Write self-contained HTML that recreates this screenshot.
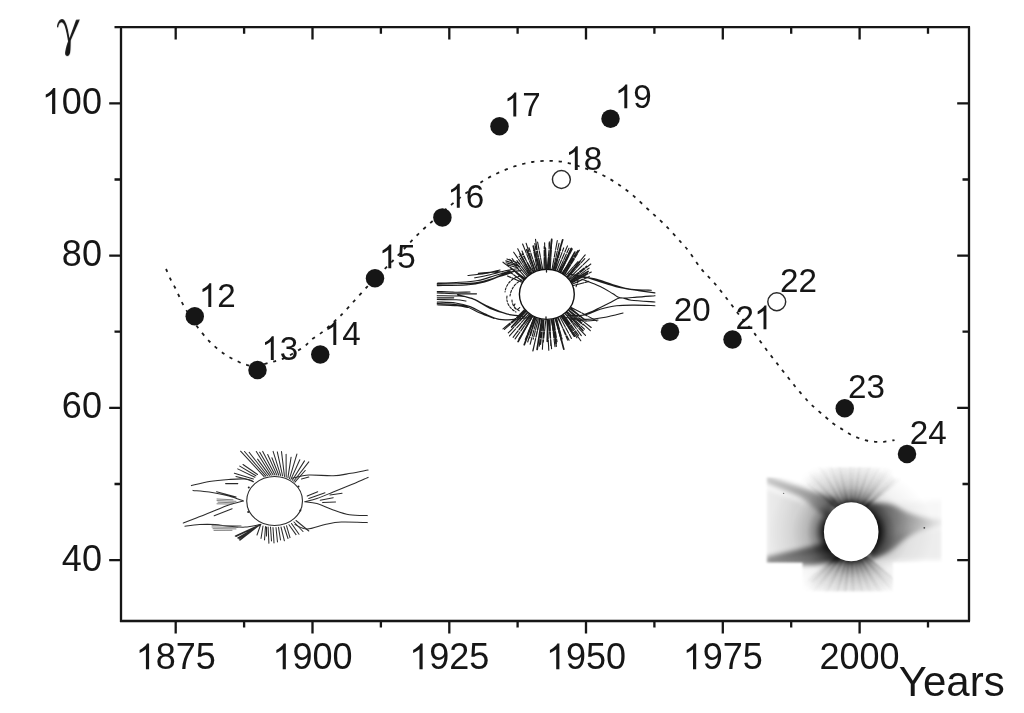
<!DOCTYPE html>
<html><head><meta charset="utf-8"><title>gamma vs years</title>
<style>
html,body{margin:0;padding:0;background:#fff;}
body{width:1024px;height:713px;overflow:hidden;font-family:"Liberation Sans",sans-serif;}
svg{display:block}
text{font-family:"Liberation Sans",sans-serif;fill:#151515}
.ax{font-size:36px}
.lb{font-size:33.2px}
</style></head><body>
<svg width="1024" height="713" viewBox="0 0 1024 713">
<rect width="1024" height="713" fill="#ffffff"/>
<defs>
<filter id="soft" x="-5%" y="-5%" width="110%" height="110%"><feGaussianBlur stdDeviation="0.45"/></filter>
<filter id="b07" x="-20%" y="-20%" width="140%" height="140%"><feGaussianBlur stdDeviation="0.85"/></filter>
<filter id="b1" x="-20%" y="-20%" width="140%" height="140%"><feGaussianBlur stdDeviation="1.2"/></filter>
<filter id="b2" x="-20%" y="-20%" width="140%" height="140%"><feGaussianBlur stdDeviation="2.4"/></filter>
<filter id="b4" x="-20%" y="-20%" width="140%" height="140%"><feGaussianBlur stdDeviation="4"/></filter>
<radialGradient id="halo" gradientUnits="userSpaceOnUse" cx="851.2" cy="531.8" r="70" gradientTransform="translate(851.2 531.8) scale(1.18 0.95) translate(-851.2 -531.8)">
<stop offset="0" stop-color="#000" stop-opacity="0.95"/>
<stop offset="0.33" stop-color="#000" stop-opacity="0.9"/>
<stop offset="0.38" stop-color="#000" stop-opacity="0.62"/>
<stop offset="0.44" stop-color="#000" stop-opacity="0.34"/>
<stop offset="0.54" stop-color="#000" stop-opacity="0.15"/>
<stop offset="0.72" stop-color="#000" stop-opacity="0.05"/>
<stop offset="1" stop-color="#000" stop-opacity="0"/>
</radialGradient>
<radialGradient id="rayg" gradientUnits="userSpaceOnUse" cx="851.2" cy="531.8" r="76">
<stop offset="0.36" stop-color="#000" stop-opacity="0.7"/>
<stop offset="0.44" stop-color="#000" stop-opacity="0.36"/>
<stop offset="0.58" stop-color="#000" stop-opacity="0.17"/>
<stop offset="0.80" stop-color="#000" stop-opacity="0.07"/>
<stop offset="1" stop-color="#000" stop-opacity="0"/>
</radialGradient>
<radialGradient id="fang" gradientUnits="userSpaceOnUse" cx="851.2" cy="531.8" r="74">
<stop offset="0.38" stop-color="#000" stop-opacity="0.24"/>
<stop offset="0.52" stop-color="#000" stop-opacity="0.15"/>
<stop offset="0.72" stop-color="#000" stop-opacity="0.08"/>
<stop offset="1" stop-color="#000" stop-opacity="0"/>
</radialGradient>
<linearGradient id="lgL" gradientUnits="userSpaceOnUse" x1="836" y1="0" x2="766" y2="0">
<stop offset="0" stop-color="#000" stop-opacity="0.8"/><stop offset="0.35" stop-color="#000" stop-opacity="0.55"/><stop offset="1" stop-color="#000" stop-opacity="0.42"/>
</linearGradient>
<linearGradient id="lgLU" gradientUnits="userSpaceOnUse" x1="836" y1="0" x2="766" y2="0">
<stop offset="0" stop-color="#000" stop-opacity="0.6"/><stop offset="0.4" stop-color="#000" stop-opacity="0.36"/><stop offset="1" stop-color="#000" stop-opacity="0.24"/>
</linearGradient>
<linearGradient id="lgR" gradientUnits="userSpaceOnUse" x1="868" y1="0" x2="943" y2="0">
<stop offset="0" stop-color="#000" stop-opacity="0.7"/><stop offset="0.25" stop-color="#000" stop-opacity="0.5"/><stop offset="0.5" stop-color="#000" stop-opacity="0.36"/><stop offset="0.8" stop-color="#000" stop-opacity="0.18"/><stop offset="1" stop-color="#000" stop-opacity="0.06"/>
</linearGradient>
<mask id="cross" maskUnits="userSpaceOnUse" x="750" y="455" width="210" height="150"><g filter="url(#b07)"><path d="M766.3 477 H802.5 V467 H893 V477 H942 V562.7 H893 V591.5 H802.5 V562.7 H766.3 Z" fill="#fff"/></g></mask>
<linearGradient id="lgM" gradientUnits="userSpaceOnUse" x1="832" y1="0" x2="766" y2="0">
<stop offset="0" stop-color="#000" stop-opacity="0.3"/><stop offset="0.4" stop-color="#000" stop-opacity="0.15"/><stop offset="1" stop-color="#000" stop-opacity="0.07"/>
</linearGradient>
</defs>
<g mask="url(#cross)">
<g filter="url(#b2)"><path d="M851.2 519.8 L796.0 473.5 L801.4 467.8 L807.4 462.7 L813.8 458.2 L820.8 454.5 L828.1 451.6 L835.6 449.5 L843.4 448.2 L851.2 447.8 L859.0 448.2 L866.8 449.5 L874.3 451.6 L881.6 454.5 L888.6 458.2 L895.0 462.7 L901.0 467.8 L906.4 473.5 Z" fill="url(#fang)"/><path d="M851.2 543.8 L906.4 590.1 L901.0 595.8 L895.0 600.9 L888.6 605.4 L881.6 609.1 L874.3 612.0 L866.8 614.1 L859.0 615.4 L851.2 615.8 L843.4 615.4 L835.6 614.1 L828.1 612.0 L820.8 609.1 L813.8 605.4 L807.4 600.9 L801.4 595.8 L796.0 590.1 Z" fill="url(#fang)"/><path d="M828.0 512.0 L766.0 488.0 L766.0 560.0 L830.0 552.0 Z" fill="url(#lgM)"/><path d="M870.0 540.0 L942.0 528.0 L942.0 560.0 L872.0 560.0 Z" fill="#000" fill-opacity="0.07"/><path d="M870.0 505.0 L942.0 500.0 L942.0 522.0 L872.0 525.0 Z" fill="#000" fill-opacity="0.03"/><path d="M838.0 500.0 L800.0 487.0 L766.0 476.0 L766.0 483.0 L800.0 497.0 L828.0 518.0 Z" fill="url(#lgLU)"/><path d="M828.0 542.0 L800.0 549.0 L766.0 557.0 L766.0 565.0 L812.0 565.0 L842.0 561.0 Z" fill="url(#lgL)"/><path d="M864.0 503.0 C868.2 503.2 881.5 502.3 889.0 504.0 C896.5 505.7 902.5 510.6 909.0 513.0 C915.5 515.4 922.3 517.3 928.0 518.5 C933.7 519.7 940.5 519.8 943.0 520.0 L943 526 943.0 526.0 C939.0 526.9 925.3 529.3 919.0 531.5 C912.7 533.7 910.0 535.6 905.0 539.0 C900.0 542.4 894.8 548.7 889.0 552.0 C883.2 555.3 873.2 557.8 870.0 559.0 Z" fill="url(#lgR)"/></g>
<g filter="url(#b1)"><ellipse cx="851.2" cy="531.8" rx="84" ry="68" fill="url(#halo)"/></g>
<g filter="url(#b07)" stroke="url(#rayg)" fill="none"><path d="M841.0 510.2 L811.1 481.7 M841.6 509.6 L809.5 475.8 M842.6 508.8 L813.2 471.1 M843.2 508.3 L819.5 474.1 M844.6 507.5 L823.8 468.6 M845.5 507.0 L822.4 454.9 M847.1 506.4 L835.3 467.3 M847.9 506.2 L837.1 462.3 M849.1 506.0 L841.1 451.9 M849.9 505.9 L845.1 455.6 M851.6 505.8 L852.8 464.7 M852.2 505.8 L855.2 462.2 M853.9 506.1 L863.4 456.4 M854.7 506.2 L866.0 462.3 M856.1 506.7 L873.7 459.5 M856.9 507.0 L879.8 456.2 M858.5 507.9 L880.6 472.0 M859.0 508.2 L888.7 463.5 M860.1 509.0 L893.1 468.8 M860.9 509.7 L895.9 473.6 M862.0 510.9 L901.0 478.5 M861.3 553.5 L902.4 593.0 M860.9 553.9 L896.7 591.6 M859.6 555.0 L894.3 601.3 M858.9 555.5 L883.6 593.2 M857.8 556.1 L880.8 598.6 M857.1 556.5 L874.8 594.7 M855.6 557.1 L869.7 599.2 M854.8 557.3 L868.9 611.2 M853.1 557.7 L860.9 613.0 M852.2 557.8 L856.3 613.2 M850.9 557.8 L849.6 613.7 M849.8 557.7 L845.5 600.2 M848.6 557.6 L839.5 605.4 M847.7 557.3 L836.3 600.6 M846.2 556.9 L828.5 603.8 M845.3 556.5 L823.1 604.0 M844.0 555.8 L822.9 590.9 M843.2 555.3 L812.5 599.8 M842.2 554.5 L811.8 590.6 M841.7 554.1 L806.8 591.8 M840.6 552.9 L808.0 580.8 " stroke-width="1.0"/><path d="M840.4 510.9 L807.5 483.6 M842.0 509.3 L809.6 472.3 M844.0 507.8 L815.9 460.6 M846.2 506.7 L829.5 462.7 M848.3 506.1 L839.6 464.9 M850.9 505.8 L849.8 459.1 M853.2 506.0 L860.2 458.8 M855.6 506.5 L872.1 456.6 M857.7 507.4 L878.9 467.5 M859.5 508.5 L888.5 469.3 M861.5 510.3 L895.2 479.5 M861.9 552.8 L898.7 583.9 M860.4 554.3 L895.1 594.0 M858.4 555.8 L885.1 600.5 M856.4 556.8 L876.4 606.8 M854.1 557.5 L864.2 604.5 M851.7 557.8 L853.4 605.2 M849.4 557.7 L843.7 601.5 M847.2 557.2 L833.4 602.7 M844.7 556.2 L821.2 601.6 M842.6 554.9 L809.3 597.8 M841.1 553.5 L811.5 582.2 " stroke-width="2.0"/></g>
<g filter="url(#soft)"><ellipse cx="851.2" cy="531.8" rx="27.3" ry="29.5" fill="#fff"/><circle cx="924.3" cy="527.8" r="0.9" fill="#444"/><circle cx="783.6" cy="493.4" r="0.7" fill="#777"/></g>
</g>
<g filter="url(#soft)" fill="none" stroke="#2c2c2c" stroke-width="1.05" stroke-linecap="round">
<ellipse cx="274.6" cy="501.0" rx="27.9" ry="24.5" stroke="#2a2a2a" stroke-width="1.1"/>
<path d="M264.1 476.7 L240.6 451.2 M265.8 476.2 L244.5 451.5 M267.5 475.8 L249.1 452.3 M269.4 475.4 L257.6 459.1 M271.2 475.2 L256.3 451.5 M273.1 475.0 L259.7 452.2 M275.0 475.0 L262.7 451.4 M276.9 475.1 L267.7 454.5 M278.8 475.3 L271.9 457.7 M280.7 475.6 L273.1 451.4 M282.6 476.0 L277.3 451.9 M284.5 476.5 L281.5 451.6 M286.2 477.1 L286.1 454.3 M287.9 477.8 L291.1 457.2 M289.5 478.6 L296.9 454.1 M290.9 479.4 L299.8 459.7 M292.3 480.3 L304.5 460.9 M293.7 481.2 L308.8 461.9 M294.9 482.2 L305.2 470.5 M255.9 475.8 L239.8 466.1 M254.9 477.3 L237.7 468.9 M253.4 479 L234.4 473.2 M252 480.5 L236 476.5 M257.5 474.5 L243 464.5 M268.1 527 L268.9 543.3 M270.5 527 L271.5 541 M273 527.5 L274 543 M276 527.5 L277.5 542 M278.5 527.3 L280.5 540 M281 527 L284.4 540.8 M284 526.5 L288 538.5 M286.5 525.7 L290 537.6 M289 524.8 L296 534.6 M291.5 523.5 L299 534.3 M294 522 L303 531.5 M296 520.5 L308.8 531 M265.5 526.5 L264.5 540 M263 526 L261 538.5 M260.5 525 L257 535 M266.5 527 L266.5 536 M261.0 524.3 L235.3 536.0 M260.3 524.8 L236.0 536.5 M259.6 525.2 L237.7 538.0 M258.9 525.6 L238.8 538.7 M258.2 526.1 L239.7 539.6 M257.5 526.5 L239.8 540.3 "/>
<path d="M191.4 485.6 C194.4 484.9 203.1 482.5 209.3 481.5 C215.5 480.5 222.8 479.9 228.8 479.5 C234.8 479.1 241.0 478.6 245.1 479.0 C249.2 479.4 252.1 481.3 253.5 481.8 M193.0 490.4 C195.7 490.7 203.3 491.2 209.3 492.1 C215.3 493.1 223.1 494.6 228.8 496.1 C234.5 497.6 241.1 500.2 243.5 501.0 M183.3 523.0 C185.5 522.2 191.4 520.0 196.3 518.1 C201.2 516.2 207.1 513.8 212.5 511.6 C217.9 509.4 223.6 506.9 228.8 505.1 C234.0 503.3 241.1 501.7 243.5 501.0 M184.9 526.2 C187.3 525.9 194.5 524.9 199.5 524.6 C204.5 524.3 210.1 524.3 215.0 524.6 C219.9 524.9 223.8 525.8 228.8 526.2 C233.8 526.6 239.9 527.4 245.1 527.1 C250.2 526.8 257.3 525.0 259.7 524.6 M291.7 478.2 C294.6 477.7 301.9 475.4 308.8 475.0 C315.7 474.6 326.2 476.1 333.2 475.8 C340.2 475.5 345.2 474.2 351.0 473.3 C356.8 472.4 365.2 470.6 368.1 470.1 M368.1 477.4 C365.2 478.6 356.8 482.3 351.0 484.7 C345.2 487.1 338.9 489.7 333.2 492.0 C327.5 494.3 321.6 496.9 316.9 498.5 C312.1 500.1 306.7 501.2 304.7 501.8 M304.7 501.8 C306.7 502.1 312.1 502.2 316.9 503.6 C321.6 505.0 327.8 508.0 333.2 509.9 C338.6 511.8 343.7 513.8 349.4 514.8 C355.1 515.8 364.3 515.5 367.3 515.6 M295.0 524.6 C297.0 525.4 302.2 529.1 307.2 529.1 C312.2 529.1 319.3 525.8 325.0 524.6 C330.7 523.4 334.2 522.4 341.3 522.1 C348.4 521.8 363.0 522.5 367.3 522.6 M225.6 483.6 L237.8 483.6 M216.6 491.7 L236.1 497 M214.2 515.7 L232.1 508.7 M301.5 479 L308.8 477.1 M307.2 496.1 L317.7 491.7 M308.8 498.5 L325 492.8 M329.9 495 L342.1 493.3 M320.2 500.2 L333.2 497.7 M322.6 502.6 L335.6 502.1 "/>
<path d="M217 499 L233 499.8 M217 500.6 L236 501.3 M218 502.2 L234 502.8 M217 503.8 L232 504.1 M212 525.3 L241 525.8 M212 527 L238 527.4 M213 528.7 L236 528.9 M214 530.4 L232 530.3 " stroke="#555" stroke-width="0.75"/>
<g fill="#222" stroke="none"><circle cx="248.8" cy="487.5" r="1"/><circle cx="248.2" cy="512" r="1"/><circle cx="298.5" cy="486.5" r="1"/><circle cx="300.3" cy="510.5" r="1"/></g>
</g>
<g filter="url(#soft)" fill="none" stroke="#1c1c1c" stroke-width="1.15" stroke-linecap="round">
<path d="M521.8 282.2 L507.4 276.0 M522.5 281.2 L507.4 270.2 M523.5 279.7 L508.0 265.2 M524.3 278.7 L503.0 262.2 M524.7 278.3 L509.5 266.7 M525.5 277.3 L509.7 259.3 M526.8 276.0 L512.1 258.7 M527.7 275.2 L516.6 260.2 M528.8 274.4 L513.7 252.2 M529.5 273.8 L519.2 256.3 M530.5 273.2 L517.7 248.7 M531.6 272.5 L522.0 251.1 M533.0 271.7 L522.1 253.9 M533.7 271.4 L522.6 244.0 M534.9 270.8 L526.1 243.2 M536.6 270.2 L529.0 247.8 M537.4 269.9 L533.6 250.2 M539.1 269.4 L534.8 243.6 M540.2 269.1 L535.5 239.3 M541.3 268.9 L536.1 246.4 M542.6 268.7 L537.6 242.1 M544.1 268.5 L544.2 246.5 M545.4 268.4 L544.6 242.7 M547.2 268.4 L549.7 243.1 M548.2 268.4 L549.4 241.8 M549.0 268.5 L549.1 242.8 M550.3 268.6 L551.8 238.9 M552.1 268.8 L557.3 240.5 M553.3 269.1 L559.0 243.4 M554.9 269.5 L560.7 248.9 M555.7 269.7 L563.7 247.9 M557.2 270.2 L567.5 245.9 M558.8 270.8 L569.0 248.2 M559.6 271.2 L571.2 248.6 M560.8 271.8 L572.3 249.0 M562.3 272.6 L577.9 250.6 M563.4 273.3 L575.5 255.2 M564.4 274.0 L579.4 250.1 M564.9 274.4 L577.2 254.2 M566.0 275.2 L578.5 261.0 M567.3 276.4 L585.2 254.9 M568.1 277.3 L584.8 258.6 M569.1 278.3 L589.3 258.9 M569.9 279.3 L586.6 266.1 M570.7 280.4 L590.8 264.0 M571.1 281.0 L589.1 268.1 M571.6 281.9 L588.9 272.6 M572.2 282.8 L591.3 272.0 M572.7 283.9 L590.2 276.0 M573.4 285.5 L588.8 281.4 M571.2 307.4 L596.9 321.0 M570.8 308.1 L585.2 320.0 M570.1 309.0 L586.0 320.8 M569.0 310.3 L591.2 327.5 M568.7 310.7 L590.3 330.6 M567.5 311.9 L582.9 324.8 M566.7 312.7 L584.4 329.1 M565.6 313.7 L581.3 335.6 M565.3 314.0 L585.5 335.4 M563.8 315.0 L578.6 335.3 M563.0 315.6 L580.8 340.7 M562.2 316.0 L576.9 337.8 M561.2 316.6 L573.5 335.0 M560.1 317.2 L571.4 338.4 M558.5 317.9 L567.6 340.1 M557.8 318.2 L569.1 340.3 M556.6 318.6 L562.1 339.0 M555.2 319.0 L561.6 341.4 M553.7 319.4 L557.0 341.6 M552.9 319.6 L556.4 346.4 M551.7 319.8 L555.0 346.8 M550.0 320.0 L550.8 345.4 M549.0 320.1 L551.6 348.8 M548.1 320.2 L550.8 342.0 M547.1 320.2 L548.8 350.2 M545.8 320.2 L543.3 342.3 M543.9 320.1 L542.4 349.2 M543.2 320.0 L540.6 344.5 M542.1 319.8 L539.3 346.1 M540.2 319.5 L532.8 351.0 M539.6 319.3 L533.0 351.0 M538.3 319.0 L533.2 339.2 M537.0 318.6 L530.1 344.3 M535.9 318.2 L529.7 337.9 M535.1 317.8 L527.7 342.0 M534.0 317.4 L525.3 339.6 M532.5 316.6 L518.9 339.0 M531.4 316.0 L515.1 338.9 M530.6 315.5 L515.9 333.7 M529.7 314.9 L513.1 337.3 M528.8 314.2 L509.5 335.8 M527.5 313.2 L508.3 332.8 M526.9 312.7 L510.2 331.1 M525.7 311.4 L504.4 329.3 M525.0 310.7 L503.0 328.9 M524.2 309.8 L509.6 324.9 " stroke-width="1.1" stroke-dasharray="11 1.2 6 1.5 14 1"/>
<path d="M530.5 273.2 L520.1 254.1 M535.0 270.8 L526.7 249.7 M539.0 269.4 L533.3 246.2 M546.3 268.4 L545.3 248.0 M548.9 268.5 L551.6 239.8 M553.9 269.2 L562.7 239.8 M560.7 271.8 L571.4 248.4 M563.2 273.2 L574.8 252.1 M567.6 276.7 L579.8 261.7 M571.2 281.2 L588.1 271.5 M566.8 312.7 L582.9 330.5 M562.0 316.2 L574.4 336.2 M555.9 318.8 L563.8 349.1 M551.6 319.8 L556.1 343.3 M547.7 320.2 L547.3 341.5 M541.7 319.8 L537.1 349.5 M534.4 317.6 L524.3 344.6 M532.1 316.4 L518.1 341.6 M525.6 311.4 L511.7 327.0 " stroke-width="1.7"/>
<path d="M506.9 259.0 L519.6 263.5 M505.8 260.9 L518.2 265.0 M506.0 262.8 L519.9 266.5 M507.3 264.7 L518.2 268.0 M437.3 284.3 C440.6 284.2 451.0 284.0 457.4 283.8 C463.8 283.6 469.8 283.7 475.6 282.9 C481.4 282.1 486.8 280.6 492.0 278.9 C497.2 277.2 501.7 274.3 506.6 272.9 C511.5 271.5 518.8 270.9 521.2 270.5 M437.3 285.6 C442.1 285.5 458.1 285.6 466.0 285.0 C473.9 284.4 479.1 283.4 484.7 282.0 C490.2 280.6 494.8 278.1 499.3 276.5 C503.9 274.9 509.9 273.2 512.0 272.5 M437.3 283.2 C441.1 283.1 453.2 282.8 460.0 282.3 C466.8 281.9 472.2 281.6 478.0 280.5 C483.8 279.4 489.7 277.1 495.0 275.5 C500.3 273.9 507.5 271.8 510.0 271.0 M474.7 277.8 C477.3 277.3 484.9 275.9 490.2 274.7 C495.5 273.5 502.1 271.5 506.6 270.5 C511.2 269.5 515.7 269.0 517.5 268.7 M478.3 273.4 C480.2 273.2 485.9 272.7 490.0 272.4 C494.1 272.1 500.8 271.7 503.0 271.6 M468.0 275.5 C470.8 275.2 479.7 274.4 485.0 273.5 C490.3 272.6 497.5 270.6 500.0 270.0 M437.3 292.9 C440.6 293.0 450.9 293.6 457.4 293.8 C463.9 294.0 473.3 293.8 476.5 293.8 M437.3 291.5 C440.2 291.6 449.6 292.1 455.0 292.2 C460.4 292.3 467.5 292.0 470.0 292.0 M437.3 295.7 C440.9 295.8 453.2 295.6 459.0 296.0 C464.8 296.4 467.0 296.6 471.9 298.4 C476.8 300.2 482.6 304.0 488.4 306.6 C494.2 309.2 500.5 312.2 506.6 313.9 C512.7 315.6 521.8 316.2 524.8 316.6 M437.3 297.8 C440.0 297.8 451.0 297.8 453.7 297.8 M437.3 299.5 C440.4 299.6 451.2 299.6 456.0 299.8 C460.8 300.1 464.3 300.8 466.0 301.0 M437.3 302.0 C440.3 302.2 450.0 302.2 455.5 303.0 C461.0 303.8 465.2 304.8 470.1 306.6 C475.0 308.4 479.8 311.8 484.7 313.9 C489.6 316.0 494.4 318.5 499.3 319.4 C504.2 320.3 509.0 319.7 513.9 319.4 C518.8 319.1 526.1 317.8 528.5 317.5 M437.3 304.8 C440.6 304.9 452.3 305.2 457.4 305.7 C462.5 306.1 466.2 307.2 468.0 307.5 M457.4 294.8 C460.1 295.6 468.3 297.0 473.8 299.3 C479.3 301.6 484.4 305.9 490.2 308.4 C496.0 310.9 503.5 313.1 508.4 314.3 C513.3 315.5 517.6 315.5 519.4 315.7 M437.3 303.4 C439.8 303.5 447.2 303.7 452.0 304.2 C456.8 304.7 461.3 305.0 466.0 306.5 C470.7 308.0 475.3 311.0 480.0 313.0 C484.7 315.0 491.7 317.6 494.0 318.5 M567.4 273.8 C570.4 274.4 579.5 275.6 585.6 277.1 C591.7 278.6 597.7 281.1 603.8 282.9 C609.9 284.7 615.7 286.6 622.1 288.0 C628.5 289.4 636.6 290.3 642.1 291.1 C647.6 291.9 652.8 292.6 654.9 292.9 M576.5 276.5 C579.5 276.9 588.6 277.5 594.7 278.9 C600.8 280.3 606.9 283.0 613.0 284.7 C619.1 286.4 624.8 288.4 631.2 289.3 C637.6 290.2 647.9 290.1 651.3 290.2 M582.0 279.2 C585.0 280.4 595.0 284.1 600.2 286.5 C605.4 288.9 609.7 291.9 613.0 293.8 C616.3 295.7 616.2 297.2 620.2 297.8 C624.2 298.4 630.9 297.5 636.7 297.1 C642.5 296.8 651.9 295.9 654.9 295.7 M579.2 316.6 C581.8 315.5 589.7 312.5 594.7 310.2 C599.7 307.9 605.0 305.1 609.3 303.0 C613.5 300.9 616.6 298.3 620.2 297.8 C623.9 297.3 625.4 299.5 631.2 300.2 C637.0 300.9 651.0 301.7 654.9 302.0 M567.4 315.7 C570.4 315.6 580.1 315.9 585.6 314.8 C591.1 313.7 595.0 310.8 600.2 309.3 C605.4 307.8 610.8 306.4 616.6 305.7 C622.4 305.0 628.4 305.1 634.8 305.1 C641.2 305.1 651.5 305.6 654.9 305.7 M565.5 317.5 C568.9 317.8 579.2 319.4 585.6 319.4 C592.0 319.4 597.6 318.6 603.8 317.5 C610.0 316.4 619.8 313.8 623.0 313.0 M570.0 319.0 C572.5 319.3 580.3 320.8 585.0 321.0 C589.7 321.2 595.8 320.2 598.0 320.0 "/>
<path d="M520 276 C512 278 506 284 505 292 M522 280 C515 283 511 289 510 296 M507 296 C506 302 509 308 516 312 M512 300 C512 305 515 309 520 311 M515 304 a3 3 0 1 0 5 3 M575 277 l4 5 M578 281 l-2 6" stroke-dasharray="2.2 1.6" stroke-width="1.1"/>
<ellipse cx="546.85" cy="294.3" rx="27.45" ry="25.1" fill="#fff" stroke="#111" stroke-width="1.4"/>
<path d="M546.5 269.5 v2.5 M546 316.8 v2.6" stroke-width="1.3"/>
</g>

<g filter="url(#soft)">
<g stroke="#141414" stroke-width="2.3" fill="none" stroke-linecap="butt">
<path d="M114.5 27.2 H970.05 M121.0 27.2 V622.05 M119.95 621.0 H970.05 M969.0 27.2 V621.0"/>
<path d="M175.7 27.2 v12.3 M175.7 621.0 v12.5 M312.5 27.2 v12.3 M312.5 621.0 v12.5 M449.3 27.2 v12.3 M449.3 621.0 v12.5 M586.0 27.2 v12.3 M586.0 621.0 v12.5 M722.8 27.2 v12.3 M722.8 621.0 v12.5 M859.6 27.2 v12.3 M859.6 621.0 v12.5 M244.1 27.2 v6.6 M244.1 621.0 v6.6 M380.9 27.2 v6.6 M380.9 621.0 v6.6 M517.6 27.2 v6.6 M517.6 621.0 v6.6 M654.4 27.2 v6.6 M654.4 621.0 v6.6 M791.2 27.2 v6.6 M791.2 621.0 v6.6 M928.0 27.2 v6.6 M928.0 621.0 v6.6 M121.0 560.1 h-11.8 M969.0 560.1 h-11.8 M121.0 407.8 h-11.8 M969.0 407.8 h-11.8 M121.0 255.6 h-11.8 M969.0 255.6 h-11.8 M121.0 103.3 h-11.8 M969.0 103.3 h-11.8 M121.0 484.0 h-6.5 M969.0 484.0 h-6.5 M121.0 331.7 h-6.5 M969.0 331.7 h-6.5 M121.0 179.5 h-6.5 M969.0 179.5 h-6.5 "/>
</g>
<path transform="translate(135.67 669.3) scale(0.01758 -0.01758)" d="M763 0H583V1147Q518 1085 412.5 1023Q307 961 223 930V1104Q374 1175 487 1276Q600 1377 647 1472H763Z" fill="#151515"/><text class="ax" x="155.69 175.71 195.73" y="669.3">875</text>
<path transform="translate(272.44 669.3) scale(0.01758 -0.01758)" d="M763 0H583V1147Q518 1085 412.5 1023Q307 961 223 930V1104Q374 1175 487 1276Q600 1377 647 1472H763Z" fill="#151515"/><text class="ax" x="292.46 312.48 332.51" y="669.3">900</text>
<path transform="translate(409.22 669.3) scale(0.01758 -0.01758)" d="M763 0H583V1147Q518 1085 412.5 1023Q307 961 223 930V1104Q374 1175 487 1276Q600 1377 647 1472H763Z" fill="#151515"/><text class="ax" x="429.24 449.26 469.28" y="669.3">925</text>
<path transform="translate(545.99 669.3) scale(0.01758 -0.01758)" d="M763 0H583V1147Q518 1085 412.5 1023Q307 961 223 930V1104Q374 1175 487 1276Q600 1377 647 1472H763Z" fill="#151515"/><text class="ax" x="566.01 586.03 606.05" y="669.3">950</text>
<path transform="translate(682.76 669.3) scale(0.01758 -0.01758)" d="M763 0H583V1147Q518 1085 412.5 1023Q307 961 223 930V1104Q374 1175 487 1276Q600 1377 647 1472H763Z" fill="#151515"/><text class="ax" x="702.78 722.81 742.83" y="669.3">975</text>
<text class="ax" x="819.54 839.56 859.58 879.60" y="669.3">2000</text>
<text class="ax" x="61.86 81.88" y="570.7">40</text>
<text class="ax" x="61.86 81.88" y="418.4">60</text>
<text class="ax" x="61.86 81.88" y="266.2">80</text>
<path transform="translate(41.84 113.9) scale(0.01758 -0.01758)" d="M763 0H583V1147Q518 1085 412.5 1023Q307 961 223 930V1104Q374 1175 487 1276Q600 1377 647 1472H763Z" fill="#151515"/><text class="ax" x="61.86 81.88" y="113.9">00</text>
<text x="898.8" y="696" font-size="42px">Years</text>
<path transform="translate(48 10) scale(0.07576)" fill="#151515" d="M120,230 C118,180 145,122 185,120 C222,120 245,185 262,260 L283,372 L370,130 L420,128 L300,400 C298,440 300,520 293,560 C288,595 270,610 250,608 C228,605 222,585 228,545 C235,500 255,440 265,415 C255,350 240,270 222,215 C205,165 180,155 160,170 C145,182 138,205 135,228 Z"/>
<path d="M166.0 269.0 C166.8 270.7 169.1 276.3 170.6 279.4 C172.1 282.5 173.6 284.7 175.0 287.5 C176.4 290.3 177.7 293.2 179.0 296.0 C180.3 298.8 180.4 299.9 183.0 304.4 C185.6 308.9 190.0 316.7 194.5 323.0 C199.0 329.3 204.9 336.8 210.0 342.0 C215.1 347.2 220.4 351.3 225.0 354.5 C229.6 357.7 234.1 359.6 237.5 361.2 C240.9 362.9 242.5 363.8 245.6 364.6 C248.7 365.4 251.9 366.6 256.0 366.2 C260.1 365.8 266.2 363.5 270.0 362.5 C273.8 361.5 275.9 360.9 278.8 360.0 C281.6 359.1 282.7 359.1 286.9 356.9 C291.1 354.7 299.7 349.7 303.8 346.9 C307.8 344.1 308.2 342.2 311.0 340.0 C313.8 337.8 317.5 335.7 320.6 333.4 C323.7 331.1 326.7 328.4 329.4 326.0 C332.1 323.6 334.4 321.2 337.0 318.8 C339.6 316.2 338.7 317.8 345.0 311.0 C351.3 304.2 368.3 285.4 375.0 278.2 C381.7 271.1 381.1 272.6 385.3 268.4 C389.6 264.2 395.3 258.3 400.5 252.8 C405.7 247.3 411.1 241.1 416.6 235.6 C422.1 230.1 428.1 225.0 433.8 220.0 C439.4 215.0 444.7 210.2 450.2 205.6 C455.7 201.0 461.1 196.8 466.6 192.7 C472.1 188.6 477.9 184.2 483.0 181.0 C488.1 177.8 492.2 175.7 497.5 173.2 C502.8 170.8 509.2 168.1 515.0 166.2 C520.8 164.4 526.7 162.9 532.5 162.0 C538.3 161.1 544.4 160.7 550.0 160.8 C555.6 160.8 560.8 161.4 566.2 162.5 C571.7 163.6 576.9 165.6 582.5 167.5 C588.1 169.4 594.4 171.2 600.0 173.8 C605.6 176.3 610.8 179.5 616.2 183.0 C621.7 186.5 627.1 190.5 632.5 195.0 C637.9 199.5 643.3 205.0 648.8 210.0 C654.2 215.0 659.6 219.6 665.0 225.0 C670.4 230.4 677.3 238.1 681.2 242.5 C685.2 246.9 685.4 246.9 688.8 251.2 C692.1 255.6 696.9 263.3 701.2 268.8 C705.6 274.2 710.4 278.3 715.0 283.8 C719.6 289.2 724.4 295.6 728.8 301.2 C733.1 306.9 737.1 312.3 741.2 317.5 C745.4 322.7 749.4 326.9 753.8 332.5 C758.1 338.1 762.9 345.2 767.5 351.2 C772.1 357.3 776.7 362.9 781.2 368.8 C785.8 374.6 790.5 380.8 795.0 386.2 C799.5 391.7 804.4 397.4 808.0 401.2 C811.6 405.1 813.8 406.9 816.8 409.5 C819.7 412.1 822.7 414.6 825.5 417.0 C828.3 419.4 830.7 421.7 833.5 423.8 C836.3 425.8 839.7 427.7 842.5 429.5 C845.3 431.3 847.8 433.1 850.5 434.5 C853.2 435.9 855.8 437.0 858.5 438.0 C861.2 439.0 863.9 439.9 866.8 440.5 C869.6 441.1 872.7 441.5 875.5 441.8 C878.3 442.0 881.0 442.0 883.8 441.8 C886.5 441.5 890.5 440.8 892.2 440.5 C894.0 440.2 894.1 440.1 894.5 440.0" fill="none" stroke="#1e1e1e" stroke-width="1.8" stroke-dasharray="3.3 5.9"/>
<circle cx="194.75" cy="316.25" r="9.25" fill="#161616"/>
<circle cx="257.5" cy="370" r="9.25" fill="#161616"/>
<circle cx="320.25" cy="354.5" r="9.25" fill="#161616"/>
<circle cx="375" cy="278.25" r="9.25" fill="#161616"/>
<circle cx="442.4" cy="217.4" r="9.25" fill="#161616"/>
<circle cx="499.5" cy="126.25" r="9.25" fill="#161616"/>
<circle cx="610.5" cy="118.75" r="9.25" fill="#161616"/>
<circle cx="670" cy="331.75" r="9.25" fill="#161616"/>
<circle cx="732.5" cy="339.5" r="9.25" fill="#161616"/>
<circle cx="844.75" cy="408.25" r="9.25" fill="#161616"/>
<circle cx="907" cy="454" r="9.25" fill="#161616"/>
<circle cx="561.4" cy="179.5" r="8.95" fill="#fff" stroke="#2a2a2a" stroke-width="1.45"/>
<circle cx="776.75" cy="301.75" r="8.95" fill="#fff" stroke="#2a2a2a" stroke-width="1.45"/>
<path transform="translate(198.88 307.0) scale(0.01621 -0.01621)" d="M763 0H583V1147Q518 1085 412.5 1023Q307 961 223 930V1104Q374 1175 487 1276Q600 1377 647 1472H763Z" fill="#151515"/><text class="lb" x="217.35" y="307.0">2</text>
<path transform="translate(261.38 360.1) scale(0.01621 -0.01621)" d="M763 0H583V1147Q518 1085 412.5 1023Q307 961 223 930V1104Q374 1175 487 1276Q600 1377 647 1472H763Z" fill="#151515"/><text class="lb" x="279.85" y="360.1">3</text>
<path transform="translate(323.88 345.1) scale(0.01621 -0.01621)" d="M763 0H583V1147Q518 1085 412.5 1023Q307 961 223 930V1104Q374 1175 487 1276Q600 1377 647 1472H763Z" fill="#151515"/><text class="lb" x="342.35" y="345.1">4</text>
<path transform="translate(378.88 268.3) scale(0.01621 -0.01621)" d="M763 0H583V1147Q518 1085 412.5 1023Q307 961 223 930V1104Q374 1175 487 1276Q600 1377 647 1472H763Z" fill="#151515"/><text class="lb" x="397.35" y="268.3">5</text>
<path transform="translate(447.38 207.7) scale(0.01621 -0.01621)" d="M763 0H583V1147Q518 1085 412.5 1023Q307 961 223 930V1104Q374 1175 487 1276Q600 1377 647 1472H763Z" fill="#151515"/><text class="lb" x="465.85" y="207.7">6</text>
<path transform="translate(503.88 116.39999999999999) scale(0.01621 -0.01621)" d="M763 0H583V1147Q518 1085 412.5 1023Q307 961 223 930V1104Q374 1175 487 1276Q600 1377 647 1472H763Z" fill="#151515"/><text class="lb" x="522.35" y="116.39999999999999">7</text>
<path transform="translate(614.88 108.3) scale(0.01621 -0.01621)" d="M763 0H583V1147Q518 1085 412.5 1023Q307 961 223 930V1104Q374 1175 487 1276Q600 1377 647 1472H763Z" fill="#151515"/><text class="lb" x="633.35" y="108.3">9</text>
<text class="lb" x="673.78 692.25" y="321.40000000000003">20</text>
<path transform="translate(754.05 329.3) scale(0.01621 -0.01621)" d="M763 0H583V1147Q518 1085 412.5 1023Q307 961 223 930V1104Q374 1175 487 1276Q600 1377 647 1472H763Z" fill="#151515"/><text class="lb" x="735.58" y="329.3">2</text>
<text class="lb" x="848.08 866.55" y="398.1">23</text>
<text class="lb" x="909.78 928.25" y="444.40000000000003">24</text>
<path transform="translate(565.38 170.1) scale(0.01621 -0.01621)" d="M763 0H583V1147Q518 1085 412.5 1023Q307 961 223 930V1104Q374 1175 487 1276Q600 1377 647 1472H763Z" fill="#151515"/><text class="lb" x="583.85" y="170.1">8</text>
<text class="lb" x="780.08 798.55" y="291.90000000000003">22</text>
</g>
</svg>
</body></html>
